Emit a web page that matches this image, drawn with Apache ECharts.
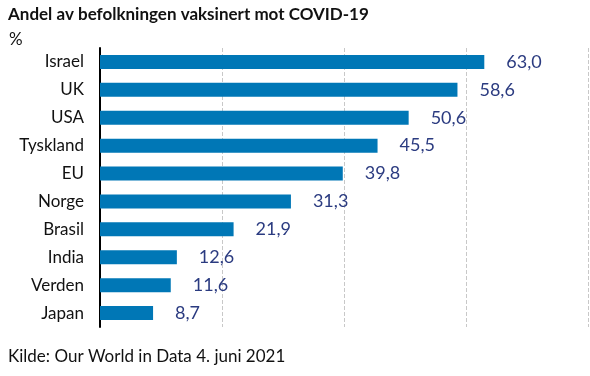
<!DOCTYPE html>
<html>
<head>
<meta charset="utf-8">
<script src="https://cdn.jsdelivr.net/npm/echarts@6/dist/echarts.min.js"></script>
<style>
  html, body { margin: 0; padding: 0; background: #fff; }
  #chart { width: 590px; height: 376px; }
</style>
</head>
<body>
<div id="chart"></div>
<script>
// data, top to bottom as in the picture
var countries = ["Israel", "UK", "USA", "Tyskland", "EU", "Norge", "Brasil", "India", "Verden", "Japan"];
var shares = [63.0, 58.6, 50.6, 45.5, 39.8, 31.3, 21.9, 12.6, 11.6, 8.7];
var axisMin = 0;
var axisMax = 80;
var axisStep = 20;

var font = "Lato";

var chart = echarts.init(document.getElementById("chart"));

var option = {
  animation: false,
  graphic: [
    {
      type: "text", left: 8, top: 6,
      style: { text: "Andel av befolkningen vaksinert mot COVID-19", font: "bold 17px " + font, fill: "#111" }
    },
    {
      type: "text", left: 9, top: 31,
      style: { text: "%", font: "17px " + font, fill: "#111" }
    },
    {
      type: "text", left: 8, top: 348,
      style: { text: "Kilde: Our World in Data 4. juni 2021", font: "17px " + font, fill: "#111" }
    }
  ],
  grid: { left: 100, right: 2, top: 48, bottom: 49 },
  xAxis: {
    type: "value",
    min: axisMin, max: axisMax, interval: axisStep,
    axisLabel: { show: false },
    axisLine: { show: false },
    axisTick: { show: false },
    splitLine: { show: true, lineStyle: { type: "dashed", color: "#c8c8c8", width: 1 } }
  },
  yAxis: {
    type: "category",
    inverse: true,
    data: countries,
    axisLine: { show: true, lineStyle: { color: "#000", width: 2 } },
    axisTick: { show: false },
    axisLabel: { color: "#111", fontSize: 17, fontFamily: font, margin: 16 }
  },
  series: [{
    type: "bar",
    data: shares,
    barWidth: 14,
    itemStyle: { color: "#0077b6" },
    label: {
      show: true,
      position: "right",
      distance: 22,
      color: "#2b3b80",
      fontSize: 18,
      fontFamily: font,
      formatter: function (p) { return p.value.toFixed(1).replace(".", ","); }
    }
  }]
};

chart.setOption(option);
</script>
</body>
</html>
